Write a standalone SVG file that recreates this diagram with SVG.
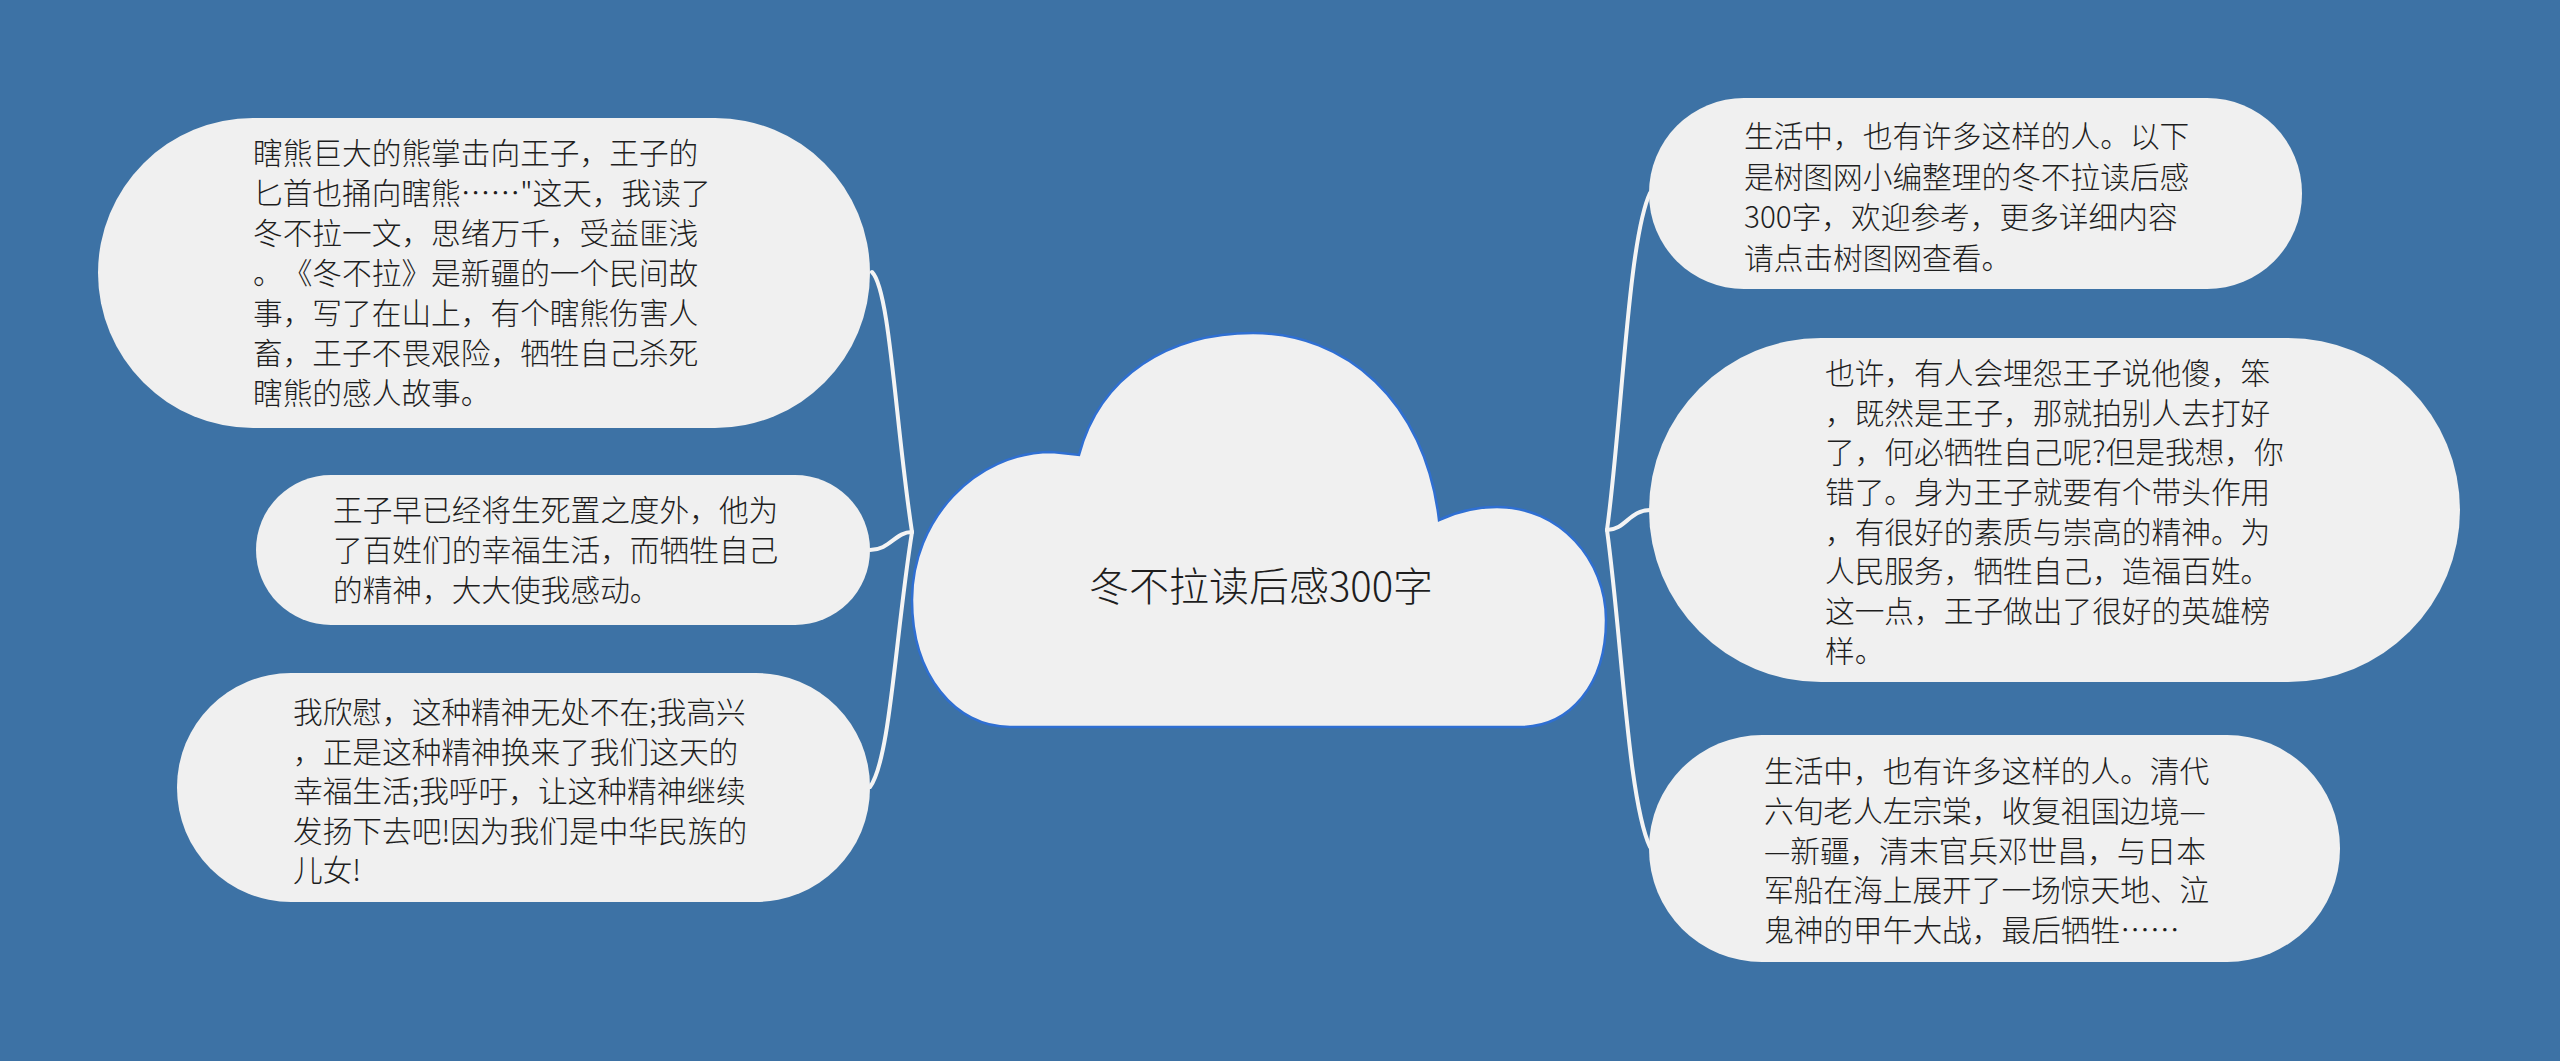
<svg xmlns="http://www.w3.org/2000/svg" width="2560" height="1061" viewBox="0 0 2560 1061">
<style>
.node{fill:#f0f0f0;}
.t{font-family:"Noto Sans CJK SC","Noto Sans",sans-serif;font-size:29.7px;font-weight:300;fill:#1e1e1e;text-spacing-trim:space-all;font-feature-settings:"chws" 0,"halt" 0;}
.center{font-family:"Noto Sans CJK SC","Noto Sans",sans-serif;font-size:40px;font-weight:300;fill:#1e1e1e;text-anchor:middle;}
.link{fill:none;stroke:#f4f4f4;stroke-width:4;stroke-linecap:round;}
.cloud{fill:#f0f0f0;stroke:#2f6fd2;stroke-width:2.5;}
</style>
<rect x="0" y="0" width="2560" height="1061" fill="#3d72a5"/>
<g id="connectors">
<path class="link" d="M912 532 C895 420 890 290 872 272"/>
<path class="link" d="M912 532 C895 532 890 550 870 550"/>
<path class="link" d="M912 532 C895 640 890 760 870 787"/>
<path class="link" d="M1607 530 C1622 420 1628 240 1650 193"/>
<path class="link" d="M1607 530 C1625 530 1630 510 1650 510"/>
<path class="link" d="M1607 530 C1622 640 1628 800 1650 847"/>
</g>
<g id="root">
<path class="cloud" d="M1010 727 C955 727 912 675 912 600 C912 520 975 452 1052 452 L1079 455 C1100 375 1170 333 1253 333 C1345 333 1425 400 1439 520 C1458 511 1478 507 1497 507 C1560 507 1606 560 1606 620 C1606 685 1570 727 1520 727 Z"/>
<text class="center" x="1261" y="601">冬不拉读后感300字</text>
</g>
<g id="node1">
<rect class="node" x="98" y="118" width="772" height="310" rx="155" ry="155"/>
<text class="t" x="253"><tspan x="253" y="164">瞎熊巨大的熊掌击向王子，王子的</tspan><tspan x="253" y="204">匕首也捅向瞎熊……"这天，我读了</tspan><tspan x="253" y="244">冬不拉一文，思绪万千，受益匪浅</tspan><tspan x="253" y="284">。《冬不拉》是新疆的一个民间故</tspan><tspan x="253" y="324">事，写了在山上，有个瞎熊伤害人</tspan><tspan x="253" y="364">畜，王子不畏艰险，牺牲自己杀死</tspan><tspan x="253" y="404">瞎熊的感人故事。</tspan></text>
</g>
<g id="node2">
<rect class="node" x="256" y="475" width="614" height="150" rx="75" ry="75"/>
<text class="t"><tspan x="333" y="521">王子早已经将生死置之度外，他为</tspan><tspan x="333" y="561">了百姓们的幸福生活，而牺牲自己</tspan><tspan x="333" y="601">的精神，大大使我感动。</tspan></text>
</g>
<g id="node3">
<rect class="node" x="177" y="673" width="693" height="229" rx="114" ry="114"/>
<text class="t"><tspan x="293" y="723">我欣慰，这种精神无处不在;我高兴</tspan><tspan x="293" y="763">，正是这种精神换来了我们这天的</tspan><tspan x="293" y="802">幸福生活;我呼吁，让这种精神继续</tspan><tspan x="293" y="842">发扬下去吧!因为我们是中华民族的</tspan><tspan x="293" y="881">儿女!</tspan></text>
</g>
<g id="node4">
<rect class="node" x="1649" y="98" width="653" height="191" rx="95" ry="95"/>
<text class="t"><tspan x="1744" y="147">生活中，也有许多这样的人。以下</tspan><tspan x="1744" y="188">是树图网小编整理的冬不拉读后感</tspan><tspan x="1744" y="228">300字，欢迎参考，更多详细内容</tspan><tspan x="1744" y="269">请点击树图网查看。</tspan></text>
</g>
<g id="node5">
<rect class="node" x="1649" y="338" width="811" height="344" rx="172" ry="172"/>
<text class="t"><tspan x="1825" y="384">也许，有人会埋怨王子说他傻，笨</tspan><tspan x="1825" y="424">，既然是王子，那就拍别人去打好</tspan><tspan x="1825" y="463">了，何必牺牲自己呢?但是我想，你</tspan><tspan x="1825" y="503">错了。身为王子就要有个带头作用</tspan><tspan x="1825" y="543">，有很好的素质与崇高的精神。为</tspan><tspan x="1825" y="582">人民服务，牺牲自己，造福百姓。</tspan><tspan x="1825" y="622">这一点，王子做出了很好的英雄榜</tspan><tspan x="1825" y="662">样。</tspan></text>
</g>
<g id="node6">
<rect class="node" x="1649" y="735" width="691" height="227" rx="113" ry="113"/>
<text class="t"><tspan x="1764" y="782">生活中，也有许多这样的人。清代</tspan><tspan x="1764" y="822">六旬老人左宗棠，收复祖国边境—</tspan><tspan x="1764" y="862">—新疆，清末官兵邓世昌，与日本</tspan><tspan x="1764" y="901">军船在海上展开了一场惊天地、泣</tspan><tspan x="1764" y="941">鬼神的甲午大战，最后牺牲……</tspan></text>
</g>
</svg>
